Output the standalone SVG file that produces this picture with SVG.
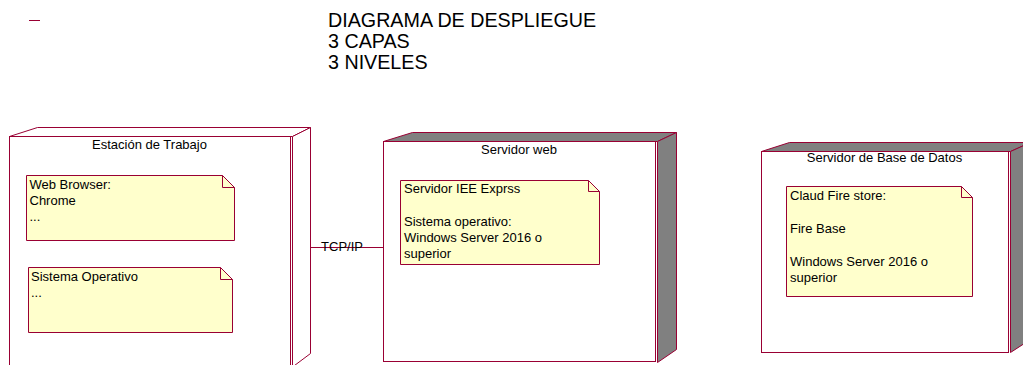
<svg xmlns="http://www.w3.org/2000/svg" width="1023" height="365" viewBox="0 0 1023 365">
<style>
.ln{stroke:#990033;stroke-width:1;fill:none}
.front{fill:#ffffff;stroke:#990033;stroke-width:1}
.grey{fill:#808080;stroke:#990033;stroke-width:1}
.white{fill:#ffffff;stroke:#990033;stroke-width:1}
.note{fill:#ffffcc;stroke:#990033;stroke-width:1}
text{font-family:"Liberation Sans",Arial,sans-serif;fill:#000000}
.t{font-size:13px}
.ttl{font-size:13px;text-anchor:middle}
.big{font-size:19.7px}
</style>
<rect width="1023" height="365" fill="#ffffff"/>
<line class="ln" x1="29" y1="20.5" x2="40" y2="20.5"/>
<g id="title">
<text class="big" x="328" y="27">DIAGRAMA DE DESPLIEGUE</text>
<text class="big" x="328" y="48">3 CAPAS</text>
<text class="big" x="328" y="69">3 NIVELES</text>
</g>
<g id="connectors">
<line class="ln" x1="301" y1="247.5" x2="383" y2="247.5"/>
<text class="t" x="342" y="251" text-anchor="middle">TCP/IP</text>
</g>
<g id="node-estacion">
<polygon class="white" points="9.5,136.5 37.5,127.5 310.5,127.5 292.5,136.5"/>
<polygon class="white" points="292.5,136.5 310.5,127.5 310.5,353.5 292.5,367"/>
<rect class="front" x="9.5" y="136.5" width="281" height="240"/>
<text class="ttl" x="149.5" y="149">Estación de Trabajo</text>
<g id="note-browser">
<polygon class="note" points="26.5,175.5 222.5,175.5 234.5,187.5 234.5,240.5 26.5,240.5"/>
<polyline class="ln" points="222.5,175.5 222.5,187.5 234.5,187.5"/>
<text class="t" x="29.5" y="189">Web Browser:</text>
<text class="t" x="29.5" y="205">Chrome</text>
<text class="t" x="29.5" y="221">...</text>
</g>
<g id="note-so">
<polygon class="note" points="28.5,267.5 220.5,267.5 232.5,279.5 232.5,332.5 28.5,332.5"/>
<polyline class="ln" points="220.5,267.5 220.5,279.5 232.5,279.5"/>
<text class="t" x="31" y="281">Sistema Operativo</text>
<text class="t" x="31" y="297">...</text>
</g>
</g>
<g id="node-web">
<polygon class="grey" points="383.5,141.5 412.5,132.5 676.5,132.5 657.5,141.5"/>
<polygon class="grey" points="657.5,141.5 676.5,132.5 676.5,349.5 657.5,362.5"/>
<rect class="front" x="383.5" y="141.5" width="272" height="220"/>
<text class="ttl" x="519" y="154">Servidor web</text>
<g id="note-iee">
<polygon class="note" points="400.5,180.5 588.5,180.5 599.5,191.5 599.5,264.5 400.5,264.5"/>
<polyline class="ln" points="588.5,180.5 588.5,191.5 599.5,191.5"/>
<text class="t" x="404" y="193">Servidor IEE Exprss</text>
<text class="t" x="404" y="226">Sistema operativo:</text>
<text class="t" x="404" y="242">Windows Server 2016 o</text>
<text class="t" x="404" y="258">superior</text>
</g>
</g>
<g id="node-db">
<polygon class="grey" points="761.5,151.5 789.5,142.5 1030.5,142.5 1010.5,151.5"/>
<polygon class="grey" points="1010.5,151.5 1030.5,142.5 1030.5,339.5 1010.5,352.5"/>
<rect class="front" x="761.5" y="151.5" width="247" height="201"/>
<text class="ttl" x="884.5" y="162">Servidor de Base de Datos</text>
<g id="note-fire">
<polygon class="note" points="786.5,186.5 961.5,186.5 972.5,197.5 972.5,296.5 786.5,296.5"/>
<polyline class="ln" points="961.5,186.5 961.5,197.5 972.5,197.5"/>
<text class="t" x="790" y="200">Claud Fire store:</text>
<text class="t" x="790" y="233">Fire Base</text>
<text class="t" x="790" y="266">Windows Server 2016 o</text>
<text class="t" x="790" y="282">superior</text>
</g>
</g>
</svg>
